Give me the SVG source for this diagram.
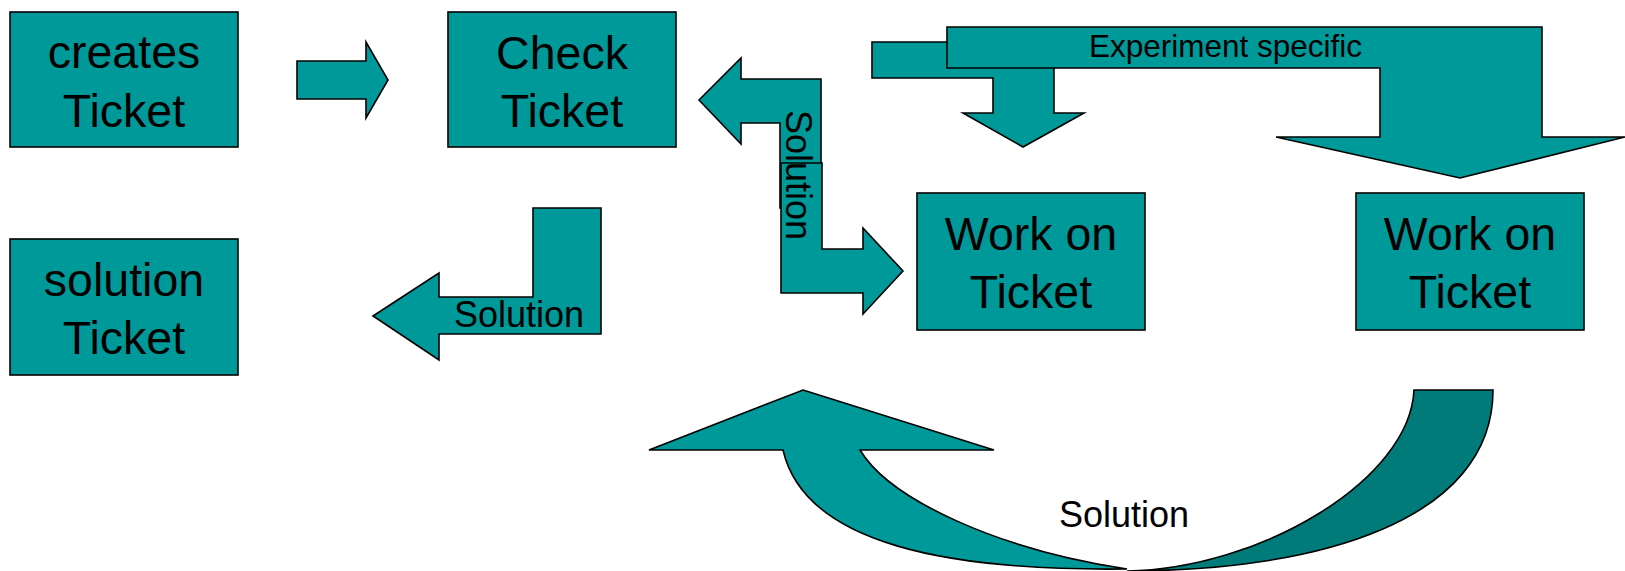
<svg xmlns="http://www.w3.org/2000/svg" width="1625" height="571" viewBox="0 0 1625 571">
  <style>
    .box { fill: #009999; stroke: #000; stroke-width: 1.6; }
    .arrow { fill: #009999; stroke: #000; stroke-width: 1.6; stroke-linejoin: miter; }
    .shade { fill: #007B7A; stroke: #000; stroke-width: 1.6; }
    .big { font-family: "Liberation Sans", Arial, sans-serif; font-size: 46.5px; fill: #000; text-anchor: middle; }
    .lbl { font-family: "Liberation Sans", Arial, sans-serif; font-size: 36px; fill: #000; }
  </style>
  <rect width="1625" height="571" fill="#fff"/>

  <!-- connectors (block arrows) -->
  <g id="connectors">
    <!-- creates -> check -->
    <path class="arrow" d="M297,61 H366 V42 L388,80 L366,118 V99 H297 Z"/>

    <!-- check <-> work on (bent double arrow) -->
    <path class="arrow" d="M699,100 L741,58 V79 H821 V208 H780 V123 H741 V144 Z"/>
    <path class="arrow" d="M781,163 H822 V249 H863 V228 L903,271 L863,314 V293 H781 Z"/>
    <text class="lbl" text-anchor="middle" transform="translate(786,175) rotate(90)">Solution</text>

    <!-- experiment specific split arrow -->
    <path class="arrow" d="M872,42 H1054 V113 H1084 L1023,147 L963,113 H993 V78 H872 Z"/>
    <path class="arrow" d="M947,27 H1542 V137 H1625 L1460,178 L1276,137 H1380 V68 H947 Z"/>
    <text class="lbl" x="1089" y="57" style="font-size:31.5px">Experiment specific</text>

    <!-- back to solution -->
    <path class="arrow" d="M373,316 L439,273 V297 H533 V208 H601 V334 H439 V360 Z"/>
    <text class="lbl" x="454" y="327">Solution</text>

    <!-- curved return arrow -->
    <path class="shade" d="M1414,390 H1493 C1493,520 1320,571 1127,571 C1260,569 1410,480 1414,390 Z"/>
    <path class="arrow" d="M803,390 L994,450 H860 C890,500 1000,550 1127,569 C950,571 805,545 783,450 H649 Z"/>
    <text class="lbl" x="1059" y="527">Solution</text>
  </g>

  <g id="createsTicket">
    <rect class="box" x="10" y="12" width="228" height="135"/>
    <text class="big" x="124" y="68">creates</text>
    <text class="big" x="124" y="127">Ticket</text>
  </g>

  <g id="checkTicket">
    <rect class="box" x="448" y="12" width="228" height="135"/>
    <text class="big" x="562" y="69">Check</text>
    <text class="big" x="562" y="127">Ticket</text>
  </g>

  <g id="solutionTicket">
    <rect class="box" x="10" y="239" width="228" height="136"/>
    <text class="big" x="124" y="296">solution</text>
    <text class="big" x="124" y="354">Ticket</text>
  </g>

  <g id="workOnTicket1">
    <rect class="box" x="917" y="193" width="228" height="137"/>
    <text class="big" x="1031" y="250">Work on</text>
    <text class="big" x="1031" y="308">Ticket</text>
  </g>

  <g id="workOnTicket2">
    <rect class="box" x="1356" y="193" width="228" height="137"/>
    <text class="big" x="1470" y="250">Work on</text>
    <text class="big" x="1470" y="308">Ticket</text>
  </g>
</svg>
